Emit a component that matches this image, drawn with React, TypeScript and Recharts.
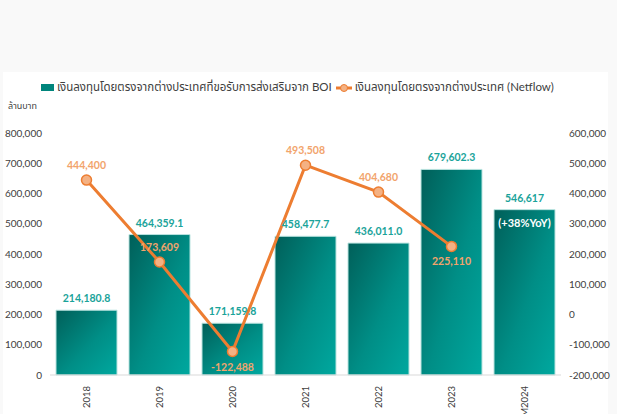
import React from 'react';
import { ComposedChart, Bar, Line, XAxis, YAxis, LabelList } from 'recharts';

const years = ['2018', '2019', '2020', '2021', '2022', '2023', '9M2024'];
const boiValues = [214180.8, 464359.1, 171159.8, 458477.7, 436011.0, 679602.3, 546617];
const boiDecimals = [1, 1, 1, 1, 1, 1, 0];
const netflowValues = [444400, 173609, -122488, 493508, 404680, 225110, null];
const netflowBelow = [false, false, true, false, false, true, false];
const leftTicks = [0, 100000, 200000, 300000, 400000, 500000, 600000, 700000, 800000];
const rightTicks = [-200000, -100000, 0, 100000, 200000, 300000, 400000, 500000, 600000];
const boiName = 'เงินลงทุนโดยตรงจากต่างประเทศที่ขอรับการส่งเสริมจาก BOI';
const netflowName = 'เงินลงทุนโดยตรงจากต่างประเทศ (Netflow)';
const unitLabel = 'ล้านบาท';
const yoyNote = '(+38%YoY)';

const data = years.map((year, i) => ({ year, boi: boiValues[i], netflow: netflowValues[i] }));

const FONT = 'Lato, "Noto Sans Thai", Tahoma, "DejaVu Sans", sans-serif';
const TEAL_TEXT = '#1aa39a';
const ORANGE = '#ed7d31';
const ORANGE_TEXT = '#f2a46c';

const fmt = (v: number, d: number) =>
  v.toLocaleString('en-US', { minimumFractionDigits: d, maximumFractionDigits: d });

const YearTick = (props: any) => {
  const { x, y, payload } = props;
  return (
    <text
      x={x}
      y={y + 3}
      transform={`rotate(-90, ${x}, ${y + 3})`}
      textAnchor="end"
      dominantBaseline="central"
      fontSize={9.5}
      fill="#404040"
      fontFamily={FONT}
    >
      {payload.value}
    </text>
  );
};

const BoiLabel = (props: any) => {
  const { x, y, width, value, index } = props;
  const cx = x + width / 2;
  return (
    <g>
      <text x={cx} y={y - 8} textAnchor="middle" fontSize={10.5} fontWeight="bold" fill={TEAL_TEXT} fontFamily={FONT}>
        {fmt(value, boiDecimals[index])}
      </text>
      {index === years.length - 1 && (
        <text x={cx} y={y + 17} textAnchor="middle" fontSize={11} fontWeight="bold" fill="#ffffff" fontFamily={FONT}>
          {yoyNote}
        </text>
      )}
    </g>
  );
};

const NetflowLabel = (props: any) => {
  const { x, y, value, index } = props;
  if (value == null) return null;
  const below = netflowBelow[index];
  return (
    <text
      x={x}
      y={below ? y + 19 : y - 11}
      textAnchor="middle"
      fontSize={10.5}
      fontWeight="bold"
      fill={ORANGE_TEXT}
      fontFamily={FONT}
    >
      {fmt(value, 0)}
    </text>
  );
};

export default function App() {
  return (
    <div style={{ position: 'absolute', top: 0, left: 0, width: 617, height: 414, background: '#f9f9f9', overflow: 'hidden' }}>
      <div style={{ position: 'absolute', left: 3, top: 72, width: 605, height: 342, background: '#ffffff' }} />
      <div
        style={{
          position: 'absolute',
          top: 79,
          left: -11,
          width: 617,
          display: 'flex',
          justifyContent: 'center',
          alignItems: 'center',
          fontFamily: FONT,
          fontSize: 11.5,
          color: '#404040',
          whiteSpace: 'nowrap',
        }}
      >
        <span style={{ display: 'inline-block', width: 13, height: 7, background: '#00857c', marginRight: 3 }} />
        <span style={{ marginRight: 4 }}>{boiName}</span>
        <svg width={16} height={10} style={{ marginRight: 3 }}>
          <line x1={0} y1={5} x2={16} y2={5} stroke={ORANGE} strokeWidth={3} />
          <circle cx={8} cy={5} r={3.5} fill="#f4b183" stroke={ORANGE} strokeWidth={1} />
        </svg>
        <span>{netflowName}</span>
      </div>
      <div style={{ position: 'absolute', top: 99, left: 8, fontFamily: FONT, fontSize: 9, color: '#404040' }}>{unitLabel}</div>
      <div style={{ position: 'absolute', top: 0, left: 0 }}>
        <ComposedChart width={617} height={414} data={data} margin={{ top: 133, right: 0, bottom: 0, left: 0 }} barSize={61}>
          <defs>
            <linearGradient id="boiFill" x1="0" y1="0" x2="1" y2="1">
              <stop offset="0%" stopColor="#005f59" />
              <stop offset="55%" stopColor="#008e86" />
              <stop offset="100%" stopColor="#00a89f" />
            </linearGradient>
          </defs>
          <XAxis
            dataKey="year"
            height={39}
            tick={<YearTick />}
            tickLine={false}
            axisLine={{ stroke: '#d9d9d9' }}
            interval={0}
          />
          <YAxis
            yAxisId="left"
            width={50}
            domain={[0, 800000]}
            ticks={leftTicks}
            tickFormatter={(v: number) => fmt(v, 0)}
            tick={{ fontSize: 10, fill: '#404040', fontFamily: FONT }}
            tickLine={false}
            axisLine={false}
          />
          <YAxis
            yAxisId="right"
            orientation="right"
            width={56}
            domain={[-200000, 600000]}
            ticks={rightTicks}
            tickFormatter={(v: number) => fmt(v, 0)}
            tick={{ fontSize: 10, fill: '#404040', fontFamily: FONT }}
            tickLine={false}
            axisLine={false}
          />
          <Bar yAxisId="left" dataKey="boi" fill="url(#boiFill)" stroke="#b9e3df" strokeWidth={1} isAnimationActive={false}>
            <LabelList dataKey="boi" content={<BoiLabel />} />
          </Bar>
          <Line
            yAxisId="right"
            dataKey="netflow"
            stroke={ORANGE}
            strokeWidth={3}
            dot={{ r: 5, fill: '#f4b183', stroke: ORANGE, strokeWidth: 1.5 }}
            activeDot={false}
            isAnimationActive={false}
          >
            <LabelList dataKey="netflow" content={<NetflowLabel />} />
          </Line>
        </ComposedChart>
      </div>
    </div>
  );
}
